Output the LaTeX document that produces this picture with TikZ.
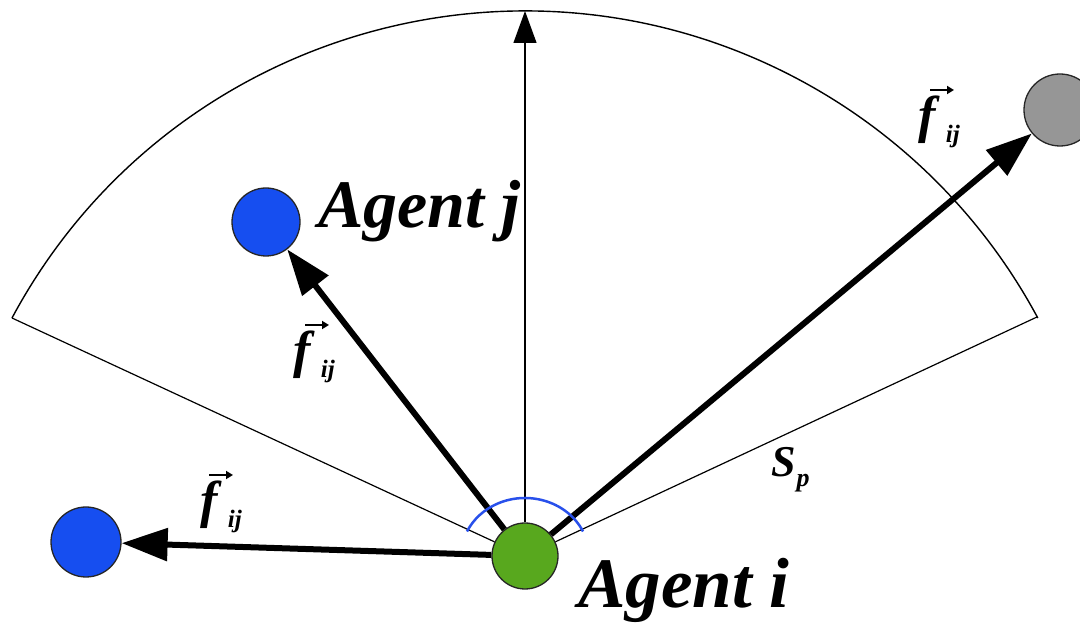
\documentclass[tikz,border=0pt]{standalone}
\usepackage{fontspec}
\setmainfont{Liberation Serif}
\usetikzlibrary{arrows.meta}
\definecolor{agentgreen}{RGB}{88,168,30}
\definecolor{agentblue}{RGB}{22,78,240}
\definecolor{agentgray}{RGB}{150,150,150}
\definecolor{fovblue}{RGB}{40,80,235}
\newcommand{\fijlabel}{\textbf{\textit{f}}\kern6pt\raisebox{-10pt}{\fontsize{25}{25}\selectfont\textbf{\textit{ij}}}}
\newcommand{\splabel}{\textbf{\textit{S}}\kern1pt\raisebox{-10pt}{\fontsize{26}{26}\selectfont\textbf{\textit{p}}}}
\begin{document}
\begin{tikzpicture}[x=1pt,y=1pt,
  agent/.style={circle, draw=black!85, line width=1.3pt, inner sep=0pt},
  force/.style={line width=6pt, -{Triangle[length=46pt,width=32pt]}},
  thinline/.style={line width=1.2pt},
  vecarrow/.style={line width=1.8pt, -{Triangle[length=7pt,width=8pt]}},
  agentlabel/.style={font=\fontsize{68}{68}\selectfont\bfseries\itshape, inner sep=0pt, anchor=base west},
  flabel/.style={font=\fontsize{52}{52}\selectfont, inner sep=0pt, anchor=base west},
  splab/.style={font=\fontsize{44}{44}\selectfont, inner sep=0pt, anchor=base west},
]
\useasboundingbox (0,0) rectangle (1080,624);
\clip (0,0) rectangle (1080,624);
% agents
\node[agent, fill=agentgreen, minimum size=66pt] (i) at (525,68) {};
\node[agent, fill=agentblue, minimum size=68pt] (j) at (266,402) {};
\node[agent, fill=agentblue, minimum size=70pt] (k) at (86,82) {};
\node[agent, fill=agentgray, minimum size=72pt] (g) at (1060,514) {};
% sector
\coordinate (L) at (12,306);
\coordinate (R) at (1037,307);
\coordinate (top) at (525,613);
\draw[thinline] (L) -- (i);
\draw[thinline] (R) -- (i);
\draw[line width=1.4pt] (L) arc[start angle=151.8, end angle=28.2, radius=582pt];
\draw[thinline, -{Triangle[length=32pt,width=23pt]}] (i) -- (top);
% forces
\draw[force] (i) -- (j);
\draw[force] (i) -- (k);
\draw[force] (i) -- (g);
% field of view arc
\draw[fovblue, line width=2.5pt] ([shift={(25:64pt and 58pt)}]i.center) arc[start angle=25, end angle=155, x radius=64pt, y radius=58pt];
% labels
\node[agentlabel] (lj) at (318,396) {Agent j};
\node[agentlabel, font=\fontsize{71}{71}\selectfont\bfseries\itshape] (li) at (578,16) {Agent i};
\node[flabel] (f1) at (200,106) {\fijlabel};
\node[flabel] (f2) at (293,256) {\fijlabel};
\node[flabel] (f3) at (918,491) {\fijlabel};
\draw[vecarrow] ([shift={(9pt,43pt)}]f1.base west) -- ++(24pt,0);
\draw[vecarrow] ([shift={(12pt,43pt)}]f2.base west) -- ++(24pt,0);
\draw[vecarrow] ([shift={(12pt,43pt)}]f3.base west) -- ++(24pt,0);
\node[splab] (sp) at (771,147) {\splabel};
\end{tikzpicture}
\end{document}
